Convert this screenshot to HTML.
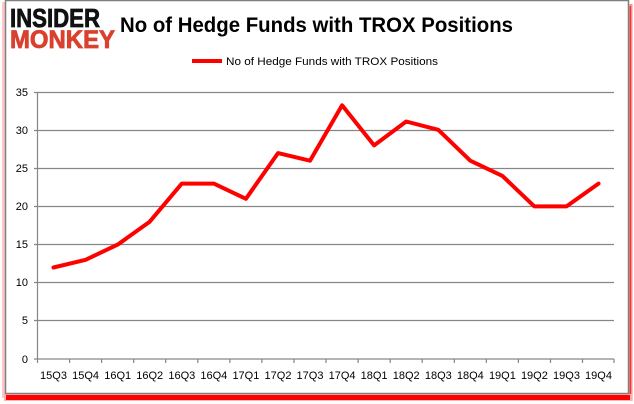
<!DOCTYPE html>
<html>
<head>
<meta charset="utf-8">
<style>
html,body{margin:0;padding:0;background:#fff;}
svg{display:block;}
text{font-family:"Liberation Sans",sans-serif;}
</style>
</head>
<body>
<svg width="634" height="404" viewBox="0 0 634 404" xmlns="http://www.w3.org/2000/svg">
  <!-- shadows -->
  <rect x="2" y="2" width="3" height="396" fill="#ffc8c8"/>
  <rect x="629.5" y="4" width="3" height="397" fill="#ff9090"/>
  <rect x="629.5" y="6" width="1.5" height="394" fill="#ff3030"/>
  <rect x="4" y="394" width="628" height="7" fill="#ffb0b0"/>
  <rect x="6" y="395" width="624" height="5" fill="#ff0000"/>
  <!-- frame -->
  <rect x="5.5" y="0.5" width="623" height="393" fill="#fff" stroke="#7f7f7f" stroke-width="1.5"/>

  <!-- logo -->
  <text x="10" y="27" font-size="26" font-weight="bold" fill="#111" stroke="#111" stroke-width="0.8" textLength="90" lengthAdjust="spacingAndGlyphs">INSIDER</text>
  <text x="10" y="48" font-size="25" font-weight="bold" fill="#d9412e" stroke="#d9412e" stroke-width="0.8" textLength="105" lengthAdjust="spacingAndGlyphs">MONKEY</text>

  <!-- title -->
  <text x="120" y="32" font-size="21" font-weight="bold" fill="#000" textLength="393" lengthAdjust="spacingAndGlyphs">No of Hedge Funds with TROX Positions</text>

  <!-- legend -->
  <line x1="192" y1="61" x2="222" y2="61" stroke="#ff0000" stroke-width="4"/>
  <text x="226" y="65" font-size="11" fill="#000" textLength="212" lengthAdjust="spacingAndGlyphs">No of Hedge Funds with TROX Positions</text>

  <!-- gridlines -->
  <g stroke="#868686" stroke-width="1.2">
    <line x1="34" y1="92.5" x2="614" y2="92.5"/>
    <line x1="34" y1="130.5" x2="614" y2="130.5"/>
    <line x1="34" y1="168.5" x2="614" y2="168.5"/>
    <line x1="34" y1="206.5" x2="614" y2="206.5"/>
    <line x1="34" y1="244.5" x2="614" y2="244.5"/>
    <line x1="34" y1="282.5" x2="614" y2="282.5"/>
    <line x1="34" y1="320.5" x2="614" y2="320.5"/>
    <line x1="34" y1="359" x2="614" y2="359"/>
    <line x1="37.5" y1="92" x2="37.5" y2="359"/>
  </g>
  <!-- x ticks -->
  <g stroke="#868686" stroke-width="1.2">
    <line x1="37.5" y1="359" x2="37.5" y2="363"/>
    <line x1="69.6" y1="359" x2="69.6" y2="363"/>
    <line x1="101.6" y1="359" x2="101.6" y2="363"/>
    <line x1="133.7" y1="359" x2="133.7" y2="363"/>
    <line x1="165.7" y1="359" x2="165.7" y2="363"/>
    <line x1="197.8" y1="359" x2="197.8" y2="363"/>
    <line x1="229.9" y1="359" x2="229.9" y2="363"/>
    <line x1="261.9" y1="359" x2="261.9" y2="363"/>
    <line x1="294" y1="359" x2="294" y2="363"/>
    <line x1="326" y1="359" x2="326" y2="363"/>
    <line x1="358.1" y1="359" x2="358.1" y2="363"/>
    <line x1="390.2" y1="359" x2="390.2" y2="363"/>
    <line x1="422.2" y1="359" x2="422.2" y2="363"/>
    <line x1="454.3" y1="359" x2="454.3" y2="363"/>
    <line x1="486.3" y1="359" x2="486.3" y2="363"/>
    <line x1="518.4" y1="359" x2="518.4" y2="363"/>
    <line x1="550.5" y1="359" x2="550.5" y2="363"/>
    <line x1="582.5" y1="359" x2="582.5" y2="363"/>
    <line x1="614" y1="359" x2="614" y2="363"/>
  </g>

  <!-- y labels -->
  <g font-size="11" fill="#000" text-anchor="end">
    <text x="28" y="96">35</text>
    <text x="28" y="134">30</text>
    <text x="28" y="172">25</text>
    <text x="28" y="210">20</text>
    <text x="28" y="248">15</text>
    <text x="28" y="286">10</text>
    <text x="28" y="324">5</text>
    <text x="28" y="363">0</text>
  </g>

  <!-- x labels -->
  <g font-size="11" fill="#000" text-anchor="middle">
    <text x="53.5" y="379">15Q3</text>
    <text x="85.6" y="379">15Q4</text>
    <text x="117.7" y="379">16Q1</text>
    <text x="149.7" y="379">16Q2</text>
    <text x="181.8" y="379">16Q3</text>
    <text x="213.8" y="379">16Q4</text>
    <text x="245.9" y="379">17Q1</text>
    <text x="278" y="379">17Q2</text>
    <text x="310" y="379">17Q3</text>
    <text x="342.1" y="379">17Q4</text>
    <text x="374.1" y="379">18Q1</text>
    <text x="406.2" y="379">18Q2</text>
    <text x="438.3" y="379">18Q3</text>
    <text x="470.3" y="379">18Q4</text>
    <text x="502.4" y="379">19Q1</text>
    <text x="534.4" y="379">19Q2</text>
    <text x="566.5" y="379">19Q3</text>
    <text x="598.5" y="379">19Q4</text>
  </g>

  <!-- series -->
  <polyline fill="none" stroke="#ff0000" stroke-width="4" stroke-linejoin="round" stroke-linecap="round"
    points="53.5,267.5 85.6,259.8 117.7,244.6 149.7,221.7 181.8,183.6 213.8,183.6 245.9,198.8 278,153.1 310,160.7 342.1,105.3 374.1,145.4 406.2,121.5 438.3,129.8 470.3,160.7 502.4,175.9 534.4,206.4 566.5,206.4 598.5,183.6"/>
</svg>
</body>
</html>
